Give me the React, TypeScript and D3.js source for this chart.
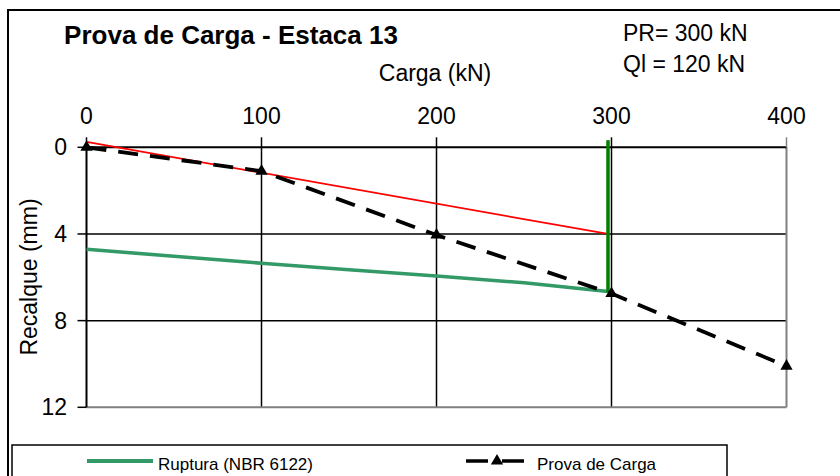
import * as d3 from "d3";

// Prova de carga (load test) readings
const carga = [0, 100, 200, 300, 400];
const recalque = [0, 1.1, 4.05, 6.75, 10.1];

// Ruptura curve (NBR 6122)
const rupturaCarga = [0, 50, 100, 150, 200, 250, 298];
const rupturaRecalque = [4.71, 5.03, 5.35, 5.65, 5.94, 6.25, 6.66];

// elastic (red) line
const retaCarga = [0, 298];
const retaRecalque = [-0.25, 4.0];

// vertical line at rupture load
const verticalCarga = [298, 298];
const verticalRecalque = [-0.33, 6.7];

const xTicks = [0, 100, 200, 300, 400];
const yTicks = [0, 4, 8, 12];

const font = "'Liberation Sans', Arial, sans-serif";

export default function App() {
  const x = d3.scaleLinear().domain([0, 400]).range([86.5, 786.5]);
  const y = d3.scaleLinear().domain([0, 12]).range([147.3, 407.3]);

  const line = d3
    .line<[number, number]>()
    .x((d) => x(d[0]))
    .y((d) => y(d[1]));

  const zip = (a: number[], b: number[]) => a.map((v, i) => [v, b[i]] as [number, number]);

  const tri = d3.symbol(d3.symbolTriangle, 65)() as string;

  return (
    <svg
      width={840}
      height={476}
      style={{ position: "absolute", left: 0, top: 0, background: "#fff" }}
    >
      {/* outer frame */}
      <rect x={8} y={10} width={900} height={600} fill="none" stroke="#000" strokeWidth={2} />

      {/* title and notes */}
      <text x={231} y={44} textAnchor="middle" fontFamily={font} fontWeight="bold" fontSize={26}>
        Prova de Carga - Estaca 13
      </text>
      <text x={435} y={81} textAnchor="middle" fontFamily={font} fontSize={23}>
        Carga (kN)
      </text>
      <text x={623} y={41} fontFamily={font} fontSize={23}>
        PR= 300 kN
      </text>
      <text x={623} y={72} fontFamily={font} fontSize={23}>
        Ql = 120 kN
      </text>

      {/* grid */}
      {xTicks.slice(1, 4).map((t) => (
        <line key={"gx" + t} x1={x(t)} x2={x(t)} y1={y(0)} y2={y(12)} stroke="#000" strokeWidth={1.5} />
      ))}
      {yTicks.slice(1, 3).map((t) => (
        <line key={"gy" + t} x1={x(0)} x2={x(400)} y1={y(t)} y2={y(t)} stroke="#000" strokeWidth={1.5} />
      ))}
      {/* right / bottom border */}
      <line x1={x(400)} x2={x(400)} y1={y(0)} y2={y(12)} stroke="#808080" strokeWidth={2} />
      <line x1={x(0)} x2={x(400)} y1={y(12)} y2={y(12)} stroke="#808080" strokeWidth={2} />
      {/* axes */}
      <line x1={x(0)} x2={x(400)} y1={y(0)} y2={y(0)} stroke="#000" strokeWidth={2} />
      <line x1={x(0)} x2={x(0)} y1={y(0)} y2={y(12)} stroke="#000" strokeWidth={2} />

      {xTicks.map((t) => (
        <g key={"xt" + t}>
          <line x1={x(t)} x2={x(t)} y1={y(0)} y2={y(0) - 10} stroke={t === 400 ? "#808080" : "#000"} strokeWidth={1.5} />
          <text x={x(t)} y={124} textAnchor="middle" fontFamily={font} fontSize={23}>
            {t}
          </text>
        </g>
      ))}
      {yTicks.map((t) => (
        <g key={"yt" + t}>
          <line x1={x(0) - 9} x2={x(0)} y1={y(t)} y2={y(t)} stroke="#000" strokeWidth={1.5} />
          <text x={67} y={y(t) + 8} textAnchor="end" fontFamily={font} fontSize={23}>
            {t}
          </text>
        </g>
      ))}

      <text
        transform="translate(37,277) rotate(-90)"
        textAnchor="middle"
        fontFamily={font}
        fontSize={23}
      >
        Recalque (mm)
      </text>

      {/* series */}
      <path d={line(zip(rupturaCarga, rupturaRecalque)) as string} fill="none" stroke="#339966" strokeWidth={3.5} />
      <path d={line(zip(retaCarga, retaRecalque)) as string} fill="none" stroke="#ff0000" strokeWidth={1.8} />
      <path d={line(zip(verticalCarga, verticalRecalque)) as string} fill="none" stroke="#008000" strokeWidth={3.5} />
      <path
        d={line(zip(carga, recalque)) as string}
        fill="none"
        stroke="#000"
        strokeWidth={3.8}
        strokeDasharray="20 12"
      />
      {carga.map((c, i) => (
        <path key={"m" + c} d={tri} transform={`translate(${x(c)},${y(recalque[i])})`} fill="#000" />
      ))}

      {/* legend */}
      <rect x={12} y={445} width={715} height={100} fill="#fff" stroke="#000" strokeWidth={1.5} />
      <line x1={87} x2={153} y1={461} y2={461} stroke="#339966" strokeWidth={4} />
      <text x={158} y={470} fontFamily={font} fontSize={17}>
        Ruptura (NBR 6122)
      </text>
      <line x1={466} x2={524} y1={461} y2={461} stroke="#000" strokeWidth={3.5} strokeDasharray="22 14" />
      <path d={tri} transform="translate(497,461)" fill="#000" />
      <text x={537} y={470} fontFamily={font} fontSize={17}>
        Prova de Carga
      </text>
    </svg>
  );
}
